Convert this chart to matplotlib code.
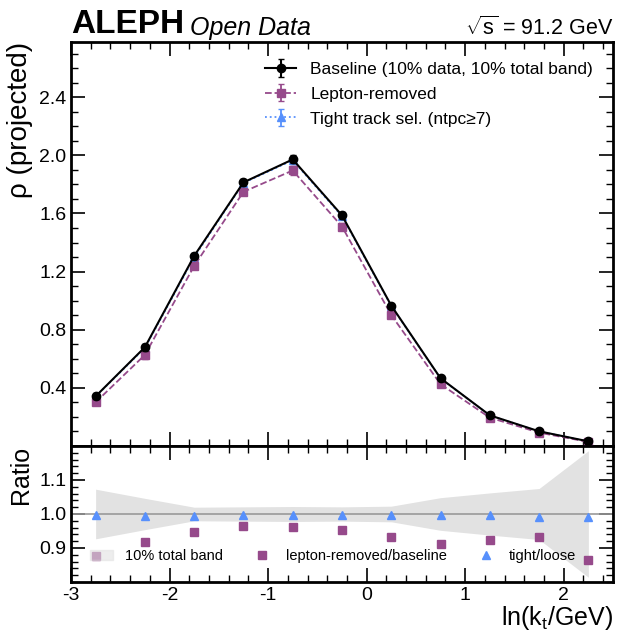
import numpy as np
import matplotlib
matplotlib.use("Agg")
import matplotlib.pyplot as plt
from matplotlib.ticker import MultipleLocator
from matplotlib.patches import Patch
from matplotlib.lines import Line2D

plt.rcParams['font.family'] = ['Liberation Sans', 'DejaVu Sans']
plt.rcParams['mathtext.fontset'] = 'custom'
plt.rcParams['mathtext.rm'] = 'Liberation Sans'
plt.rcParams['mathtext.it'] = 'Liberation Sans:italic'
plt.rcParams['axes.unicode_minus'] = False

# bin centres in ln(kt/GeV)
x = np.array([-2.75, -2.25, -1.75, -1.25, -0.75, -0.25, 0.25, 0.75, 1.25, 1.75, 2.25])

baseline = np.array([0.342, 0.680, 1.308, 1.814, 1.972, 1.587, 0.966, 0.466, 0.211, 0.101, 0.032])
baseline_err = np.array([0.020, 0.025, 0.022, 0.022, 0.028, 0.022, 0.014, 0.009, 0.006, 0.004, 0.003])

lepton = np.array([0.301, 0.627, 1.239, 1.749, 1.896, 1.510, 0.901, 0.425, 0.195, 0.092, 0.028])
lepton_err = np.array([0.020, 0.025, 0.022, 0.022, 0.028, 0.022, 0.014, 0.009, 0.006, 0.004, 0.003])

ratio_lep = np.array([0.877, 0.919, 0.948, 0.965, 0.961, 0.953, 0.931, 0.912, 0.923, 0.931, 0.865])
ratio_tight = np.array([0.996, 0.993, 0.993, 0.998, 0.997, 0.996, 0.997, 0.997, 0.997, 0.991, 0.992])
band_half = np.array([0.073, 0.046, 0.020, 0.021, 0.022, 0.021, 0.023, 0.048, 0.062, 0.075, 0.186])

tight = baseline * ratio_tight
tight_err = baseline_err

purple = '#964a8b'
blue = '#5790fc'

W, H = 617, 633
fig = plt.figure(figsize=(W / 100, H / 100), dpi=100)
ax = fig.add_axes([71 / W, (H - 446) / H, (613 - 71) / W, (446 - 42) / H])
rax = fig.add_axes([71 / W, (H - 582) / H, (613 - 71) / W, (582 - 446) / H], sharex=ax)

ax.errorbar(x, baseline, yerr=baseline_err, color='black', marker='o', ms=6, lw=1.5,
            capsize=2, label='Baseline (10% data, 10% total band)', zorder=4)
ax.errorbar(x, lepton, yerr=lepton_err, color=purple, marker='s', ms=6, lw=1.3, ls='--',
            capsize=2, label='Lepton-removed', zorder=3)
ax.errorbar(x, tight, yerr=tight_err, color=blue, marker='^', ms=6, lw=1.3, ls=':',
            capsize=2, label='Tight track sel. (ntpc≥7)', zorder=2)

ax.set_xlim(-3, 2.5)
ax.set_ylim(0, 2.78)
ax.set_yticks([0.4, 0.8, 1.2, 1.6, 2.0, 2.4])
ax.yaxis.set_minor_locator(MultipleLocator(0.1))
ax.xaxis.set_major_locator(MultipleLocator(1))
ax.xaxis.set_minor_locator(MultipleLocator(0.2))
ax.set_ylabel('ρ (projected)', fontsize=20, loc='top')
ax.tick_params(labelbottom=False)
ax.legend(loc='upper right', frameon=False, fontsize=12.5, handlelength=1.8,
          borderaxespad=0.75, labelspacing=0.55)

ax.text(0.0, 1.005, 'ALEPH', transform=ax.transAxes, fontsize=24, fontweight='bold',
        va='bottom', ha='left')
ax.text(0.22, 1.005, 'Open Data', transform=ax.transAxes, fontsize=18, style='italic',
        va='bottom', ha='left')
ax.text(1.0, 1.005, r'$\sqrt{\mathrm{s}}$ = 91.2 GeV', transform=ax.transAxes, fontsize=15.5,
        va='bottom', ha='right')

rax.fill_between(x, 1 - band_half, 1 + band_half, color='#e2e2e2', lw=0, zorder=1)
rax.axhline(1.0, color='#999999', lw=1.2, zorder=2)
rax.plot(x, ratio_lep, ls='none', marker='s', ms=6, color=purple, zorder=3)
rax.plot(x, ratio_tight, ls='none', marker='^', ms=6, color=blue, zorder=3)
rax.set_ylim(0.8, 1.2)
rax.set_yticks([0.9, 1.0, 1.1])
rax.yaxis.set_minor_locator(MultipleLocator(0.02))
rax.set_ylabel('Ratio', fontsize=18, loc='top')
rax.set_xlabel('ln(k$_\\mathrm{t}$/GeV)', fontsize=18, loc='right', labelpad=0)
handles = [Patch(color='#e2e2e2', alpha=0.6),
           Line2D([], [], ls='none', marker='s', ms=6, color=purple),
           Line2D([], [], ls='none', marker='^', ms=6, color=blue)]
rax.legend(handles, ['10% total band', 'lepton-removed/baseline', 'tight/loose'],
           loc='lower left', ncol=3, frameon=False, fontsize=10.5, columnspacing=1.9,
           handlelength=1.6, borderaxespad=0.9)

for a in (ax, rax):
    a.tick_params(which='both', direction='in', top=True, right=True, labelsize=14)
    a.tick_params(which='major', length=10, width=1.2)
    a.tick_params(which='minor', length=5, width=1.0)
    for s in a.spines.values():
        s.set_linewidth(2)

fig.align_ylabels([ax, rax])
fig.savefig('out.png', dpi=100)
